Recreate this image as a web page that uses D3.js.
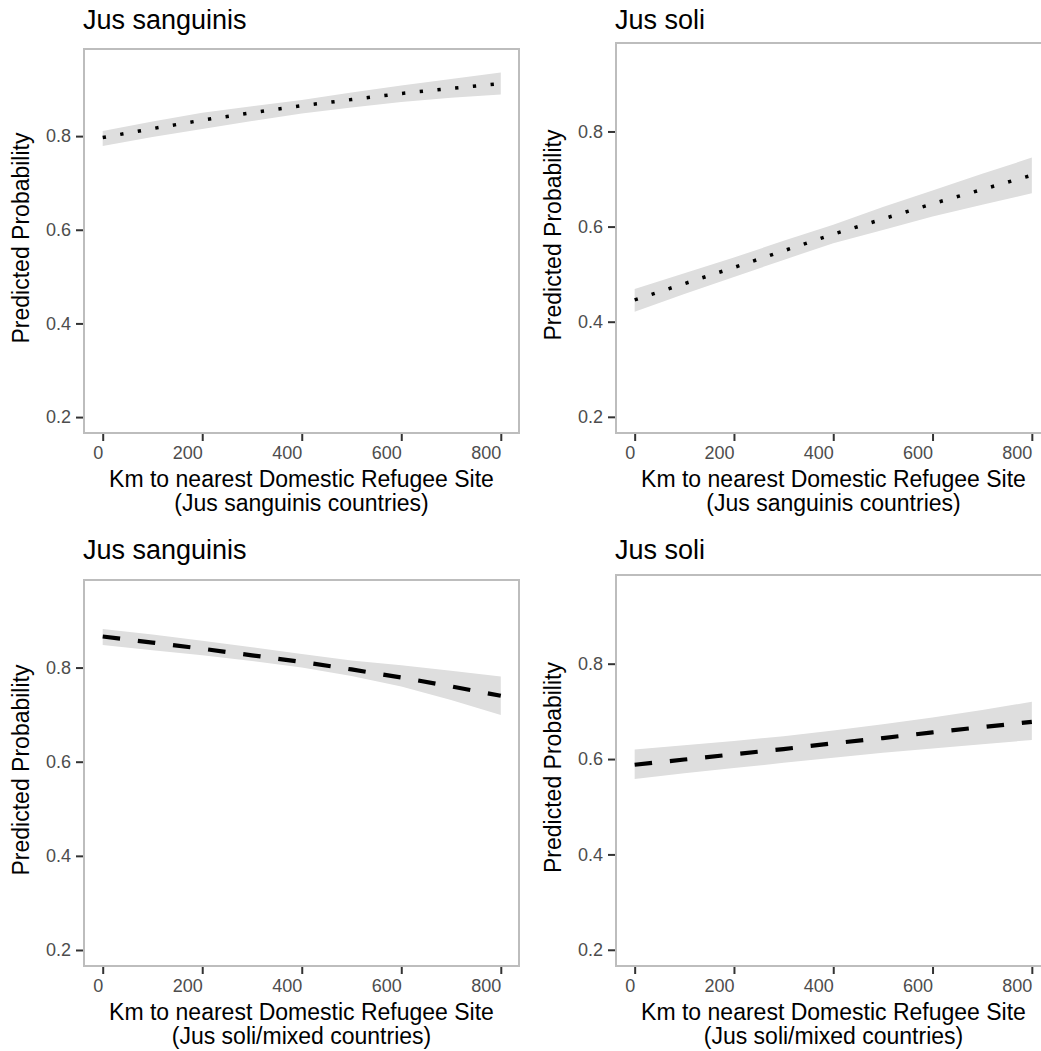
<!DOCTYPE html>
<html>
<head>
<meta charset="utf-8">
<script src="https://cdn.jsdelivr.net/npm/d3@7"></script>
<style>
  html, body { margin: 0; padding: 0; background: #ffffff; }
  svg { display: block; }
  text { font-family: "Liberation Sans", Arial, Helvetica, sans-serif; }
</style>
</head>
<body>
<svg id="chart" width="1041" height="1051"></svg>
<script>
// Distance grid (km) at which predictions are evaluated
const distanceKm = [0, 100, 200, 300, 400, 500, 600, 700, 800];

// Top-left: Jus sanguinis outcome, distance in jus sanguinis countries
const sangFitA  = [0.797, 0.816, 0.834, 0.850, 0.865, 0.878, 0.891, 0.902, 0.912];
const sangLowA  = [0.779, 0.798, 0.815, 0.832, 0.848, 0.861, 0.873, 0.882, 0.889];
const sangHighA = [0.811, 0.831, 0.850, 0.864, 0.877, 0.893, 0.908, 0.922, 0.936];

// Top-right: Jus soli outcome, distance in jus sanguinis countries
const soliFitA  = [0.446, 0.480, 0.514, 0.549, 0.584, 0.616, 0.648, 0.678, 0.708];
const soliLowA  = [0.421, 0.458, 0.494, 0.530, 0.565, 0.593, 0.621, 0.646, 0.670];
const soliHighA = [0.469, 0.502, 0.535, 0.570, 0.604, 0.641, 0.676, 0.711, 0.745];

// Bottom-left: Jus sanguinis outcome, distance in jus soli/mixed countries
const sangFitB  = [0.866, 0.853, 0.840, 0.826, 0.812, 0.796, 0.779, 0.760, 0.740];
const sangLowB  = [0.848, 0.837, 0.826, 0.814, 0.800, 0.782, 0.760, 0.731, 0.699];
const sangHighB = [0.882, 0.870, 0.857, 0.843, 0.829, 0.815, 0.805, 0.793, 0.781];

// Bottom-right: Jus soli outcome, distance in jus soli/mixed countries
const soliFitB  = [0.588, 0.599, 0.610, 0.621, 0.633, 0.644, 0.656, 0.667, 0.678];
const soliLowB  = [0.558, 0.570, 0.581, 0.592, 0.603, 0.613, 0.622, 0.631, 0.640];
const soliHighB = [0.620, 0.629, 0.638, 0.648, 0.660, 0.673, 0.687, 0.703, 0.720];

const panelTitles = ["Jus sanguinis", "Jus soli", "Jus sanguinis", "Jus soli"];
const xTitleTop = ["Km to nearest Domestic Refugee Site", "(Jus sanguinis countries)"];
const xTitleBottom = ["Km to nearest Domestic Refugee Site", "(Jus soli/mixed countries)"];
const yTitle = "Predicted Probability";
const xTickValues = [0, 200, 400, 600, 800];
const yTickValues = [0.2, 0.4, 0.6, 0.8];
const lineTypes = ["dotted", "dotted", "dashed", "dashed"];

// Shared scale extents (expanded around the data)
const xExtent = [-37.6, 836.6];
const yExtent = [0.166, 0.986];

// Panel frames in pixels
const frames = [
  { left: 84,  top: 49,  right: 519,  bottom: 433, titleY: 29 },
  { left: 616, top: 43,  right: 1050, bottom: 433, titleY: 29 },
  { left: 84,  top: 580, right: 519,  bottom: 966, titleY: 559 },
  { left: 616, top: 575, right: 1050, bottom: 966, titleY: 559 }
];

const series = [
  { fit: sangFitA, low: sangLowA, high: sangHighA, xTitle: xTitleTop },
  { fit: soliFitA, low: soliLowA, high: soliHighA, xTitle: xTitleTop },
  { fit: sangFitB, low: sangLowB, high: sangHighB, xTitle: xTitleBottom },
  { fit: soliFitB, low: soliLowB, high: soliHighB, xTitle: xTitleBottom }
];

const dashFor = { dotted: "3.3 14.5", dashed: "17.5 17.9" };
const widthFor = { dotted: 3.5, dashed: 4.2 };

const svg = d3.select("#chart");

svg.append("rect").attr("width", 1041).attr("height", 1051).attr("fill", "#ffffff");

frames.forEach((f, i) => {
  const s = series[i];
  const x = d3.scaleLinear().domain(xExtent).range([f.left, f.right]);
  const y = d3.scaleLinear().domain(yExtent).range([f.bottom, f.top]);
  const g = svg.append("g");

  const rows = distanceKm.map((d, k) => ({ d, fit: s.fit[k], lo: s.low[k], hi: s.high[k] }));

  // confidence ribbon
  g.append("path")
    .datum(rows)
    .attr("fill", "#dedede")
    .attr("d", d3.area().x(r => x(r.d)).y0(r => y(r.lo)).y1(r => y(r.hi)));

  // fitted line
  g.append("path")
    .datum(rows)
    .attr("fill", "none")
    .attr("stroke", "#000000")
    .attr("stroke-width", widthFor[lineTypes[i]])
    .attr("stroke-dasharray", dashFor[lineTypes[i]])
    .attr("stroke-linecap", "butt")
    .attr("d", d3.line().x(r => x(r.d)).y(r => y(r.fit)));

  // panel border
  g.append("rect")
    .attr("x", f.left).attr("y", f.top)
    .attr("width", f.right - f.left).attr("height", f.bottom - f.top)
    .attr("fill", "none").attr("stroke", "#bdbdbd").attr("stroke-width", 2);

  // y axis
  const yAxis = d3.axisLeft(y).tickValues(yTickValues).tickFormat(d3.format(".1f"))
    .tickSizeInner(7).tickSizeOuter(0).tickPadding(5);
  const ya = g.append("g").attr("transform", `translate(${f.left - 1},0)`).call(yAxis);
  ya.select(".domain").remove();
  ya.selectAll(".tick line").attr("stroke", "#333333").attr("stroke-width", 2);
  ya.selectAll(".tick text").attr("fill", "#4d4d4d").style("font-size", "18px")
    .style("font-family", "'Liberation Sans', Arial, sans-serif");

  // x axis: labels sit right-justified against their tick
  const xAxis = d3.axisBottom(x).tickValues(xTickValues).tickFormat(d3.format("d"))
    .tickSizeInner(7).tickSizeOuter(0).tickPadding(5);
  const xa = g.append("g").attr("transform", `translate(0,${f.bottom + 1})`).call(xAxis);
  xa.select(".domain").remove();
  xa.selectAll(".tick line").attr("stroke", "#333333").attr("stroke-width", 2);
  xa.selectAll(".tick text").attr("fill", "#4d4d4d").style("font-size", "18px")
    .style("font-family", "'Liberation Sans', Arial, sans-serif")
    .attr("text-anchor", "end").attr("x", 0);

  // panel title
  g.append("text")
    .attr("x", f.left - 1).attr("y", f.titleY)
    .attr("fill", "#000000").style("font-size", "27px")
    .text(panelTitles[i]);

  // x axis title (two lines)
  const cx = (f.left + (f.left + 435)) / 2;
  s.xTitle.forEach((line, k) => {
    g.append("text")
      .attr("x", cx).attr("y", f.bottom + 54 + k * 24)
      .attr("text-anchor", "middle").attr("fill", "#000000").style("font-size", "23px")
      .text(line);
  });

  // y axis title
  const cy = (f.top + f.bottom) / 2 - 3;
  g.append("text")
    .attr("transform", `translate(${f.left - 55.5},${cy}) rotate(-90)`)
    .attr("text-anchor", "middle").attr("fill", "#000000").style("font-size", "23px")
    .text(yTitle);
});
</script>
</body>
</html>
